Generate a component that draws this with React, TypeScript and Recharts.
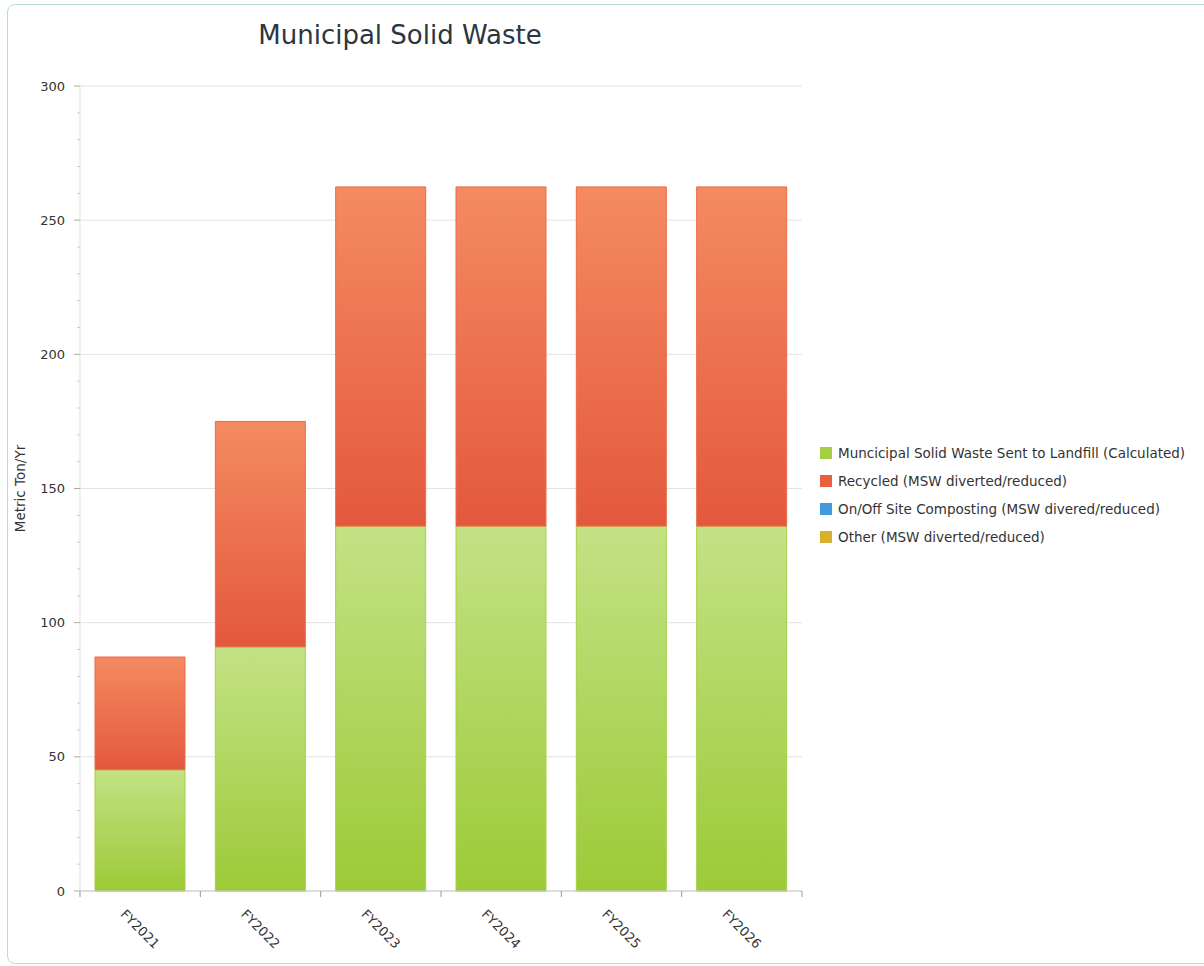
import React from 'react';
import {
  BarChart,
  Bar,
  XAxis,
  YAxis,
  CartesianGrid,
  Legend
} from 'recharts';

const years = ['FY2021', 'FY2022', 'FY2023', 'FY2024', 'FY2025', 'FY2026'];
const landfill = [45.2, 91, 136, 136, 136, 136];
const recycled = [42, 84, 126.4, 126.4, 126.4, 126.4];
const composting = [0, 0, 0, 0, 0, 0];
const other = [0, 0, 0, 0, 0, 0];

const yTicks = Array.from({ length: 31 }, (_, i) => i * 10);
const gridValues = [0, 50, 100, 150, 200, 250, 300];

const seriesNames = [
  'Muncicipal Solid Waste Sent to Landfill (Calculated)',
  'Recycled (MSW diverted/reduced)',
  'On/Off Site Composting (MSW divered/reduced)',
  'Other (MSW diverted/reduced)'
];
const swatchColors = ['#a3cf45', '#e9603f', '#3f9ae0', '#d6b22a'];

const data = years.map((year, i) => ({
  year,
  landfill: landfill[i],
  recycled: recycled[i],
  composting: composting[i],
  other: other[i]
}));

const CHART_W = 1204;
const CHART_H = 966;
const MARGIN = { top: 86, right: 402, bottom: 0, left: 14 };
const Y_AXIS_W = 66;
const X_AXIS_H = 75;
const PLOT_W = CHART_W - MARGIN.left - MARGIN.right - Y_AXIS_W;
const BAND = PLOT_W / years.length;
const FONT = '"DejaVu Sans", Verdana, sans-serif';

const YTick = (props: any) => {
  const { x, y, payload } = props;
  const major = payload.value % 50 === 0;
  return (
    <g>
      <line x1={x - (major ? 6 : 3)} x2={x} y1={y} y2={y} stroke={major ? '#aaa' : '#ccc'} />
      {major && (
        <text x={x - 15} y={y} dy="0.35em" textAnchor="end" fontSize={13} fill="#333" fontFamily={FONT}>
          {payload.value}
        </text>
      )}
    </g>
  );
};

const XTick = (props: any) => {
  const { x, y, payload, index } = props;
  return (
    <g>
      <line x1={x - BAND / 2} x2={x - BAND / 2} y1={y} y2={y + 6} stroke="#999" />
      {index === years.length - 1 && (
        <line x1={x + BAND / 2} x2={x + BAND / 2} y1={y} y2={y + 6} stroke="#999" />
      )}
      <g transform={`translate(${x}, ${y + 38}) rotate(45)`}>
        <text x={0} y={0} dy="0.35em" textAnchor="middle" fontSize={13} fill="#333" fontFamily={FONT}>
          {payload.value}
        </text>
      </g>
    </g>
  );
};

const LegendContent = () => (
  <div style={{ fontFamily: FONT, fontSize: 13.5, color: '#333' }}>
    {seriesNames.map((name, i) => (
      <div key={name} style={{ display: 'flex', alignItems: 'center', height: 28 }}>
        <span
          style={{
            display: 'inline-block',
            width: 12,
            height: 12,
            background: swatchColors[i],
            marginRight: 6
          }}
        />
        <span>{name}</span>
      </div>
    ))}
  </div>
);

export default function App() {
  return (
    <div
      style={{
        position: 'fixed',
        left: 0,
        top: 0,
        width: CHART_W,
        height: CHART_H,
        overflow: 'hidden',
        background: '#fff'
      }}
    >
      <div
        style={{
          position: 'absolute',
          left: 7,
          top: 4,
          width: 1230,
          height: 958,
          border: '1px solid #b7dcdd',
          borderRadius: 8
        }}
      />
      <div
        style={{
          position: 'absolute',
          left: 0,
          width: 800,
          top: 20,
          textAlign: 'center',
          fontFamily: FONT,
          fontSize: 26,
          color: '#2b3640'
        }}
      >
        Municipal Solid Waste
      </div>
      <div style={{ position: 'absolute', left: 0, top: 0 }}>
        <BarChart width={CHART_W} height={CHART_H} data={data} margin={MARGIN} barSize={90}>
          <defs>
            <linearGradient id="gradGreen" x1="0" y1="0" x2="0" y2="1">
              <stop offset="0%" stopColor="#c3e285" />
              <stop offset="100%" stopColor="#9cca37" />
            </linearGradient>
            <linearGradient id="gradRed" x1="0" y1="0" x2="0" y2="1">
              <stop offset="0%" stopColor="#f48b60" />
              <stop offset="100%" stopColor="#e4583d" />
            </linearGradient>
            <linearGradient id="gradBlue" x1="0" y1="0" x2="0" y2="1">
              <stop offset="0%" stopColor="#7cc0f0" />
              <stop offset="100%" stopColor="#2f8ad6" />
            </linearGradient>
            <linearGradient id="gradGold" x1="0" y1="0" x2="0" y2="1">
              <stop offset="0%" stopColor="#ecd060" />
              <stop offset="100%" stopColor="#cfa81e" />
            </linearGradient>
          </defs>
          <CartesianGrid vertical={false} horizontalValues={gridValues} stroke="#e2e2e2" />
          <XAxis
            dataKey="year"
            height={X_AXIS_H}
            tick={<XTick />}
            tickLine={false}
            tickSize={0}
            tickMargin={0}
            interval={0}
            axisLine={{ stroke: '#c8c8c8' }}
          />
          <XAxis xAxisId="top" orientation="top" dataKey="year" height={0} tick={false} tickLine={false} axisLine={{ stroke: '#eeeeee' }} />
          <YAxis
            width={Y_AXIS_W}
            domain={[0, 300]}
            ticks={yTicks}
            interval={0}
            tick={<YTick />}
            tickLine={false}
            tickSize={0}
            tickMargin={0}
            axisLine={{ stroke: '#dddddd' }}
            label={{
              value: 'Metric Ton/Yr',
              angle: -90,
              position: 'insideLeft',
              offset: 6,
              style: { textAnchor: 'middle', fontSize: 13.5, fill: '#333', fontFamily: FONT }
            }}
          />
          <YAxis yAxisId="right" orientation="right" width={0} domain={[0, 300]} tick={false} tickLine={false} axisLine={{ stroke: '#eeeeee' }} />
          <Legend
            layout="vertical"
            align="center"
            verticalAlign="middle"
            content={<LegendContent />}
            wrapperStyle={{ left: 820, top: 439, width: 384 }}
          />
          <Bar dataKey="landfill" name={seriesNames[0]} stackId="a" fill="url(#gradGreen)" stroke="#a6d04a" isAnimationActive={false} />
          <Bar dataKey="recycled" name={seriesNames[1]} stackId="a" fill="url(#gradRed)" stroke="#ec6a48" isAnimationActive={false} />
          <Bar dataKey="composting" name={seriesNames[2]} stackId="a" fill="url(#gradBlue)" isAnimationActive={false} />
          <Bar dataKey="other" name={seriesNames[3]} stackId="a" fill="url(#gradGold)" isAnimationActive={false} />
        </BarChart>
      </div>
    </div>
  );
}
